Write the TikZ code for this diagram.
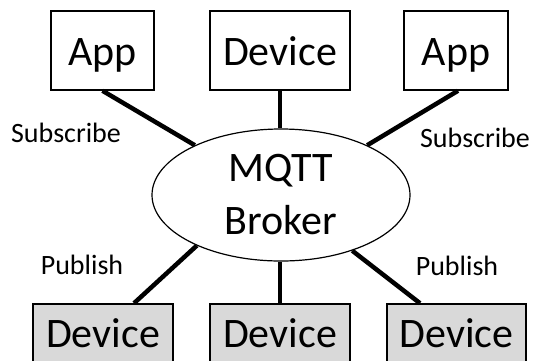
\documentclass[tikz,border=0pt]{standalone}
\usepackage{fontspec}
\setmainfont{Carlito}
\usetikzlibrary{shapes.geometric}
\definecolor{boxgray}{HTML}{D9D9D9}
\tikzset{
  topbox/.style={draw, line width=1.5pt, inner sep=0pt, minimum height=79pt,
    font=\fontsize{42}{50}\selectfont, text height=29pt, text depth=0pt},
  botbox/.style={draw, fill=boxgray, line width=1.5pt, inner sep=0pt, minimum height=79pt,
    font=\fontsize{42}{50}\selectfont, text height=7pt, text depth=0pt},
  brokershape/.style={draw, ellipse, line width=1.2pt, inner sep=0pt,
    minimum width=258pt, minimum height=132pt, align=center,
    font=\fontsize{42}{53}\selectfont},
  lbl/.style={anchor=base, inner sep=0pt, font=\fontsize{28}{33}\selectfont},
  conn/.style={line width=4.5pt}
}
\begin{document}
\begin{tikzpicture}[x=1pt,y=-1pt]
\useasboundingbox (0,0) rectangle (535,360);
\clip (0,0) rectangle (535,360);
% top boxes
\node[topbox, minimum width=103pt] (app1) at (102.5,50.5) {App};
\node[topbox, minimum width=140pt] (dev0) at (280,50.5) {Device};
\node[topbox, minimum width=104pt] (app2) at (456,50.5) {App};
% broker
\node[brokershape] (broker) at (281,195) {MQTT\\Broker};
% bottom boxes
\node[botbox, minimum width=140pt] (dev1) at (103,343.5) {Device};
\node[botbox, minimum width=140pt] (dev2) at (280,343.5) {Device};
\node[botbox, minimum width=139pt] (dev3) at (456.5,343.5) {Device};
% connectors
\draw[conn] (app1.south) -- (broker.150.3);
\draw[conn] (dev0.south) -- (broker.north -| dev0.south);
\draw[conn] ([xshift=2pt]app2.south) -- (broker.30.3);
\draw[conn] ([xshift=31pt]dev1.north) -- (broker.211.6);
\draw[conn] (dev2.north) -- (broker.south -| dev2.north);
\draw[conn] ([xshift=-36.5pt]dev3.north) -- (broker.322.2);
% labels
\node[lbl] (sub1) at (66,142) {Subscribe};
\node[lbl] (sub2) at (475,147) {Subscribe};
\node[lbl] (pub1) at (82,274) {Publish};
\node[lbl] (pub2) at (457,275) {Publish};
\end{tikzpicture}
\end{document}
